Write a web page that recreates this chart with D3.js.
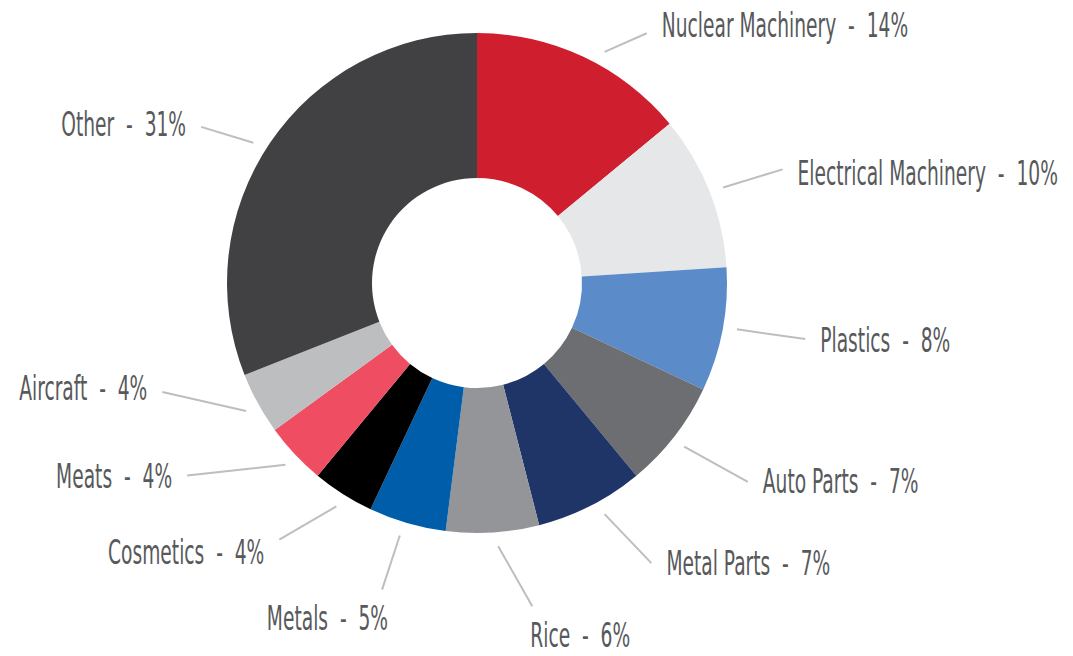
<!DOCTYPE html>
<html>
<head>
<meta charset="utf-8">
<script src="https://cdn.jsdelivr.net/npm/d3@7"></script>
<style>
  html, body { margin: 0; padding: 0; background: #fff; }
  svg text { font-family: 'DejaVu Sans Condensed', 'DejaVu Sans', sans-serif; white-space: pre; }
</style>
</head>
<body>
<div id="chart"></div>
<script>
const categories = ['Nuclear Machinery', 'Electrical Machinery', 'Plastics', 'Auto Parts', 'Metal Parts', 'Rice', 'Metals', 'Cosmetics', 'Meats', 'Aircraft', 'Other']
const shares = [14, 10, 8, 7, 7, 6, 5, 4, 4, 4, 31]
const sliceColors = ['#CF1F2F', '#E6E7E8', '#5B8BC9', '#6D6E71', '#1F3567', '#939598', '#005DA9', '#000000', '#EF4E62', '#BCBEC0', '#414042']

// label placement: leader start/end angle shifts from slice middle (deg), end radius, text side
const labelLayout = [
  { start: 3.7, shift: 9.0, r: 302, place: 'right', dy: -8 },
  { start: 0.4, shift: 1.2, r: 326, place: 'right', dy: 4 },
  { start: -0.7, shift: -1.1, r: 333, place: 'right', dy: 1 },
  { start: 0.5, shift: -1.5, r: 336, place: 'right', dy: -1 },
  { start: -1.9, shift: -4.9, r: 330, place: 'right', dy: 0 },
  { start: -1.0, shift: -6.1, r: 328, place: 'below-start', dy: 0 },
  { start: 0.8, shift: 1.0, r: 321, place: 'below-end', dy: 0 },
  { start: -0.2, shift: 5.2, r: 324, place: 'left', dy: 12 },
  { start: -0.3, shift: 9.6, r: 348, place: 'left', dy: 0 },
  { start: -0.2, shift: 9.7, r: 333, place: 'left', dy: -4 },
  { start: -2.1, shift: -4.7, r: 317, place: 'left', dy: -3 }
]

const width = 1073
const height = 656
const cx = 477
const cy = 283
const outerR = 250
const innerR = 105
const lineStartR = 264
const fontSize = 34
const squeeze = 0.61

const dataset = categories.map((name, i) => ({ name, value: shares[i], color: sliceColors[i], layout: labelLayout[i] }))

const svg = d3.select('#chart')
  .append('svg')
  .attr('width', width)
  .attr('height', height)
  .attr('viewBox', [0, 0, width, height])

const pie = d3.pie().sort(null).value(d => d.value)
const arc = d3.arc().innerRadius(innerR).outerRadius(outerR)
const arcs = pie(dataset)

const g = svg.append('g').attr('transform', `translate(${cx}, ${cy})`)

g.selectAll('path')
  .data(arcs)
  .join('path')
  .attr('d', arc)
  .attr('fill', d => d.data.color)

const polar = (angle, r) => [r * Math.sin(angle), -r * Math.cos(angle)]
const rad = deg => deg * Math.PI / 180

const labels = g.selectAll('.label')
  .data(arcs)
  .join('g')
  .attr('class', 'label')

labels.append('line')
  .each(function (d) {
    const mid = (d.startAngle + d.endAngle) / 2
    const s = polar(mid + rad(d.data.layout.start), lineStartR)
    const e = polar(mid + rad(d.data.layout.shift), d.data.layout.r)
    d.lineEnd = e
    d3.select(this)
      .attr('x1', s[0]).attr('y1', s[1])
      .attr('x2', e[0]).attr('y2', e[1])
  })
  .attr('stroke', '#BCBEC0')
  .attr('stroke-width', 2)

labels.append('text')
  .attr('font-size', fontSize)
  .attr('fill', '#58595B')
  .attr('text-anchor', d => (d.data.layout.place === 'left' || d.data.layout.place === 'below-end') ? 'end' : 'start')
  .attr('transform', d => {
    const [x, y] = d.lineEnd
    const l = d.data.layout
    let tx, ty
    if (l.place === 'right') { tx = x + 15; ty = y + l.dy + 12 }
    else if (l.place === 'left') { tx = x - 15; ty = y + l.dy + 12 }
    else if (l.place === 'below-start') { tx = x - 2; ty = y + 41 }
    else { tx = x + 6; ty = y + 40 }
    return `translate(${tx}, ${ty}) scale(${squeeze}, 1)`
  })
  .text(d => `${d.data.name}  -  ${d.data.value}%`)
</script>
</body>
</html>
